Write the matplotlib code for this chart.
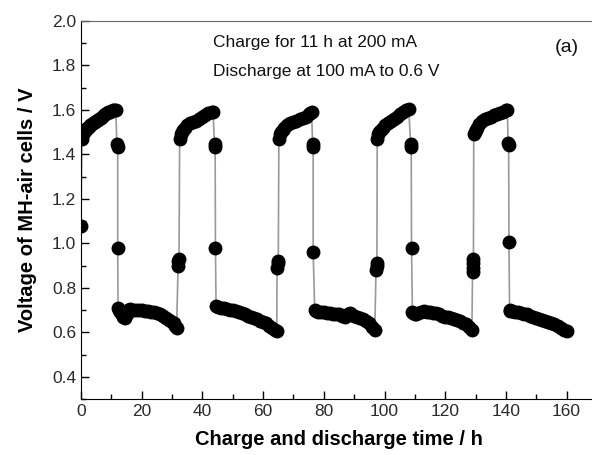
import numpy as np
import matplotlib
matplotlib.use("Agg")
import matplotlib.pyplot as plt
from matplotlib.ticker import MultipleLocator

plt.rcParams['font.family'] = ['Liberation Sans', 'DejaVu Sans']

# cycle 1 : start point, charge, drop, discharge, rise
t_c1 = [0.0, 0.3, 0.6, 1.0, 1.5, 2.0, 2.5, 3.0, 3.5, 4.0, 4.5, 5.0, 5.5, 6.0, 6.5, 7.0,
        7.5, 8.0, 8.5, 9.0, 9.5, 10.0, 10.5, 11.0, 11.5,
        11.8, 12.1, 12.1,
        12.2, 12.5, 13.0, 13.5, 14.0, 14.5, 15.0, 15.5, 16.0, 17.0, 18.0, 19.0, 20.0,
        21.0, 22.0, 23.0, 24.0, 25.0, 26.0, 27.0, 28.0, 29.0, 30.0, 30.5, 31.0, 31.5,
        32.0, 32.1, 32.3]
v_c1 = [1.08, 1.47, 1.49, 1.50, 1.51, 1.52, 1.525, 1.53, 1.535, 1.54, 1.545, 1.55, 1.555,
        1.56, 1.565, 1.57, 1.575, 1.58, 1.585, 1.59, 1.59, 1.595, 1.60, 1.60, 1.60,
        1.445, 1.435, 0.98,
        0.71, 0.70, 0.69, 0.68, 0.67, 0.665, 0.68, 0.70, 0.705, 0.70, 0.70, 0.70, 0.70,
        0.695, 0.695, 0.69, 0.69, 0.685, 0.68, 0.675, 0.665, 0.655, 0.645, 0.64, 0.63, 0.62,
        0.90, 0.92, 0.93]

# cycle 2
t_c2 = [32.5, 32.8, 33.2, 33.7, 34.2, 35.0, 36.0, 37.0, 38.0, 39.0, 40.0, 41.0, 42.0,
        43.0, 43.5,
        44.0, 44.2, 44.3,
        44.5, 45.0, 46.0, 47.0, 48.0, 49.0, 50.0, 51.0, 52.0, 53.0, 54.0, 55.0, 56.0,
        57.0, 58.0, 59.0, 60.0, 61.0, 62.0, 63.0, 64.0, 64.5,
        64.6, 64.8, 65.0]
v_c2 = [1.47, 1.49, 1.50, 1.51, 1.52, 1.53, 1.54, 1.545, 1.55, 1.56, 1.57, 1.575, 1.585,
        1.59, 1.59,
        1.445, 1.435, 0.98,
        0.72, 0.715, 0.71, 0.71, 0.705, 0.70, 0.70, 0.695, 0.69, 0.685, 0.68, 0.675, 0.67,
        0.665, 0.66, 0.65, 0.645, 0.64, 0.63, 0.62, 0.61, 0.605,
        0.89, 0.91, 0.92]

# cycle 3
t_c3 = [65.2, 65.5, 66.0, 66.5, 67.0, 68.0, 69.0, 70.0, 71.0, 72.0, 73.0, 74.0, 75.0,
        75.5, 76.0,
        76.3, 76.5, 76.5,
        77.0, 77.5, 78.0, 79.0, 80.0, 81.0, 82.0, 83.0, 84.0, 85.0, 86.0, 87.0, 88.0,
        88.5, 89.0, 90.0, 91.0, 92.0, 93.0, 94.0, 95.0, 96.0, 96.8,
        97.2, 97.4, 97.5]
v_c3 = [1.47, 1.49, 1.50, 1.51, 1.52, 1.53, 1.54, 1.545, 1.55, 1.56, 1.565, 1.57, 1.58,
        1.585, 1.59,
        1.445, 1.435, 0.96,
        0.70, 0.695, 0.69, 0.69, 0.69, 0.685, 0.685, 0.68, 0.68, 0.68, 0.675, 0.67, 0.68,
        0.685, 0.68, 0.675, 0.67, 0.665, 0.66, 0.65, 0.64, 0.625, 0.61,
        0.88, 0.90, 0.91]

# cycle 4
t_c4 = [97.6, 97.9, 98.3, 99.0, 99.5, 100.0, 101.0, 102.0, 103.0, 104.0, 105.0, 106.0,
        107.0, 108.0,
        108.6, 108.8, 108.9,
        109.2, 109.5, 110.0, 110.5, 111.0, 112.0, 113.0, 114.0, 115.0, 116.0, 117.0,
        118.0, 119.0, 120.0, 121.0, 122.0, 123.0, 124.0, 125.0, 126.0, 127.0, 128.0, 128.8,
        129.0, 129.1, 129.2, 129.3]
v_c4 = [1.47, 1.49, 1.50, 1.51, 1.52, 1.53, 1.54, 1.55, 1.56, 1.57, 1.58, 1.59,
        1.60, 1.605,
        1.445, 1.435, 0.98,
        0.69, 0.685, 0.68, 0.68, 0.685, 0.69, 0.695, 0.69, 0.69, 0.685, 0.685,
        0.68, 0.675, 0.67, 0.67, 0.665, 0.66, 0.655, 0.65, 0.64, 0.635, 0.625, 0.61,
        0.87, 0.89, 0.91, 0.93]

# cycle 5
t_c5 = [129.4, 129.7, 130.0, 130.5, 131.0, 132.0, 133.0, 134.0, 135.0, 136.0, 137.0,
        138.0, 139.0, 140.0, 140.5,
        140.7, 140.9, 141.0,
        141.2, 141.5, 142.0, 143.0, 144.0, 145.0, 146.0, 147.0, 148.0, 149.0, 150.0,
        151.0, 152.0, 153.0, 154.0, 155.0, 156.0, 157.0, 158.0, 159.0, 160.0]
v_c5 = [1.49, 1.50, 1.51, 1.52, 1.535, 1.55, 1.56, 1.565, 1.57, 1.575, 1.58,
        1.585, 1.59, 1.60, 1.60,
        1.45, 1.44, 1.005,
        0.70, 0.695, 0.695, 0.69, 0.69, 0.685, 0.68, 0.68, 0.675, 0.67, 0.665,
        0.66, 0.655, 0.65, 0.645, 0.64, 0.635, 0.63, 0.62, 0.61, 0.605]

time_h = t_c1 + t_c2 + t_c3 + t_c4 + t_c5
voltage = v_c1 + v_c2 + v_c3 + v_c4 + v_c5

fig = plt.figure(figsize=(5.92, 4.55), dpi=100)
ax = fig.add_axes([0.1368, 0.1231, 0.8716, 0.8308])

ax.plot(time_h, voltage, color='#999999', lw=1.2, zorder=1)
ax.plot(time_h, voltage, 'o', color='black', markersize=9, zorder=2)

ax.set_xlim(0, 170)
ax.set_ylim(0.3, 2.0)
ax.xaxis.set_major_locator(MultipleLocator(20))
ax.xaxis.set_minor_locator(MultipleLocator(10))
ax.yaxis.set_major_locator(MultipleLocator(0.2))
ax.yaxis.set_minor_locator(MultipleLocator(0.1))
ax.yaxis.set_major_formatter(plt.FormatStrFormatter('%.1f'))
ax.tick_params(which='both', direction='in', labelsize=12.5, labelcolor='#2a2a2a')
ax.tick_params(which='major', length=6, width=1)
ax.tick_params(which='minor', length=3.5, width=1)
ax.spines['top'].set_color('#666666')

ax.set_xlabel('Charge and discharge time / h', fontsize=14.5, fontweight='bold', labelpad=8)
ax.set_ylabel('Voltage of MH-air cells / V', fontsize=14.5, fontweight='bold', labelpad=11)

ax.text(43.5, 1.905, 'Charge for 11 h at 200 mA', fontsize=12.5, va='center', color='#111111')
ax.text(43.5, 1.775, 'Discharge at 100 mA to 0.6 V', fontsize=12.5, va='center', color='#111111')
ax.text(156.0, 1.88, '(a)', fontsize=14, va='center', color='#111111')

fig.savefig('out.png', dpi=100)
